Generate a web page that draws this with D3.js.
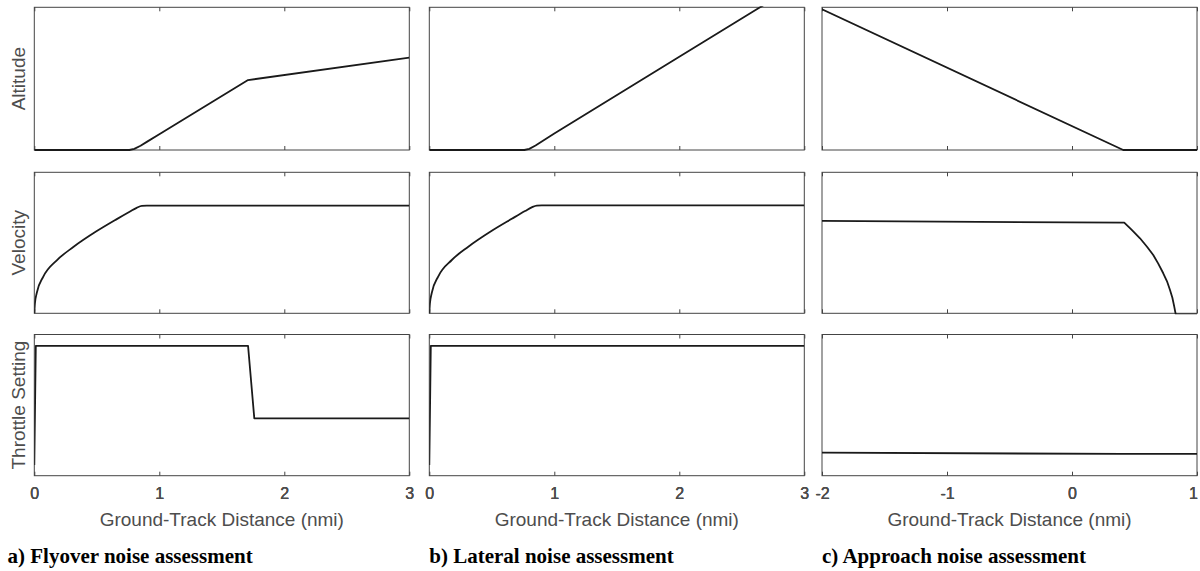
<!DOCTYPE html>
<html>
<head>
<meta charset="utf-8">
<script src="https://cdn.jsdelivr.net/npm/d3@7"></script>
<style>
  html, body { margin: 0; padding: 0; background: #fff; }
  svg { display: block; }
</style>
</head>
<body>
<svg id="chart" width="1200" height="571"></svg>
<script>
// ---------------- data ----------------
const rowLabels = ["Altitude", "Velocity", "Throttle Setting"];
const xLabel = "Ground-Track Distance (nmi)";
const captions = ["a) Flyover noise assessment", "b) Lateral noise assessment", "c) Approach noise assessment"];
const xDomainAB = [0, 3];
const xDomainC = [-2, 1];
const xTicksAB = [0, 1, 2, 3];
const xTicksC = [-2, -1, 0, 1];

// normalized values (no y scale shown in the figure)
const altitudeA = [[0,0],[0.76,0],[0.8,0.008],[0.85,0.03],[0.9,0.057],[1,0.11],[1.71,0.49],[3,0.647]];
const altitudeB = [[0,0],[0.76,0],[0.8,0.008],[0.85,0.032],[0.9,0.06],[1,0.115],[2,0.654],[2.646,1.0],[3,1.19]];
const altitudeC = [[-2,0.986],[0.41,0],[1,0]];

const velocityA = [[0,0],[0.005,0.07],[0.019,0.142],[0.072,0.26],[0.18,0.376],[0.312,0.47],[0.5,0.583],[0.66,0.668],[0.766,0.722],[0.819,0.748],[0.86,0.762],[0.9,0.763],[3,0.763]];
const velocityB = [[0,0],[0.005,0.07],[0.019,0.142],[0.072,0.262],[0.18,0.378],[0.312,0.472],[0.5,0.585],[0.66,0.67],[0.766,0.725],[0.819,0.751],[0.86,0.764],[0.9,0.765],[3,0.765]];
const velocityC = [[-2,0.655],[0.418,0.643],[0.48,0.59],[0.544,0.532],[0.6,0.472],[0.65,0.413],[0.69,0.352],[0.73,0.284],[0.76,0.227],[0.784,0.165],[0.803,0.11],[0.818,0.047],[0.826,0.01],[0.83,-0.007],[1,-0.007]];

const throttleA = [[0,0.076],[0.012,0.92],[1.71,0.92],[1.76,0.406],[3,0.406]];
const throttleB = [[0,0.076],[0.012,0.92],[3,0.92]];
const throttleC = [[-2,0.163],[0.4,0.154],[1,0.154]];

const panelData = [
  [altitudeA, velocityA, throttleA],
  [altitudeB, velocityB, throttleB],
  [altitudeC, velocityC, throttleC]
];

// ---------------- layout ----------------
const cols = [[34.3, 409.3], [429.3, 804.3], [822, 1197]];
const rows = [[7.3, 150], [172.3, 313.3], [334.5, 475.7]];
const frameColor = "#444";
const textColor = "#4d4d4d";
const sans = "'Liberation Sans', Arial, Helvetica, sans-serif";
const serif = "'Liberation Serif', 'Times New Roman', serif";

const svg = d3.select("#chart");
const defs = svg.append("defs");

cols.forEach((cx, ci) => {
  const x = d3.scaleLinear().domain(ci === 2 ? xDomainC : xDomainAB).range(cx);
  const ticks = ci === 2 ? xTicksC : xTicksAB;
  rows.forEach((ry, ri) => {
    const y = d3.scaleLinear().domain([0, 1]).range([ry[1], ry[0]]);
    const g = svg.append("g");
    const clipId = `clip-${ci}-${ri}`;
    defs.append("clipPath").attr("id", clipId)
      .append("rect").attr("x", cx[0]).attr("y", ry[0] - 1)
      .attr("width", cx[1] - cx[0]).attr("height", ry[1] - ry[0] + 2);

    const bottom = g.append("g").attr("transform", `translate(0,${ry[1]})`)
      .call(d3.axisBottom(x).tickValues(ticks).tickSize(-4).tickFormat(ri === 2 ? d3.format("d") : ""));
    const top = g.append("g").attr("transform", `translate(0,${ry[0]})`)
      .call(d3.axisTop(x).tickValues(ticks).tickSize(-4).tickFormat(""));
    [bottom, top].forEach(a => {
      a.select(".domain").remove();
      a.selectAll(".tick line").attr("stroke", frameColor).attr("stroke-width", 1);
    });
    bottom.selectAll(".tick text")
      .attr("fill", textColor).attr("font-family", sans).attr("font-size", 16)
      .attr("y", 0).attr("dy", 0)
      .attr("transform", (d, i) => `translate(${(ci === 2 && i === ticks.length - 1) ? -4 : 0},${499 - ry[1]})`)
      .text(d => d < 0 ? "-" + Math.abs(d) : d);

    g.append("rect")
      .attr("x", cx[0]).attr("y", ry[0])
      .attr("width", cx[1] - cx[0]).attr("height", ry[1] - ry[0])
      .attr("fill", "none").attr("stroke", frameColor).attr("stroke-width", 1);

    const smooth = ri === 1 && ci < 2;
    const line = d3.line().x(d => x(d[0])).y(d => y(d[1]))
      .curve(smooth ? d3.curveMonotoneX : d3.curveLinear);
    g.append("path").datum(panelData[ci][ri])
      .attr("clip-path", `url(#${clipId})`)
      .attr("d", line)
      .attr("fill", "none").attr("stroke", "#1a1a1a").attr("stroke-width", 1.8)
      .attr("stroke-linejoin", "round");
  });

  svg.append("text")
    .attr("x", (cx[0] + cx[1]) / 2).attr("y", 526)
    .attr("text-anchor", "middle")
    .attr("font-family", sans).attr("font-size", 19).attr("fill", textColor)
    .text(xLabel);

  svg.append("text")
    .attr("x", ci === 0 ? 7.5 : cx[0]).attr("y", 563)
    .attr("font-family", serif).attr("font-weight", "bold").attr("font-size", 21).attr("fill", "#000")
    .text(captions[ci]);
});

rows.forEach((ry, ri) => {
  svg.append("text")
    .attr("transform", `translate(25,${(ry[0] + ry[1]) / 2}) rotate(-90)`)
    .attr("text-anchor", "middle")
    .attr("font-family", sans).attr("font-size", 19).attr("fill", textColor)
    .text(rowLabels[ri]);
});
</script>
</body>
</html>
